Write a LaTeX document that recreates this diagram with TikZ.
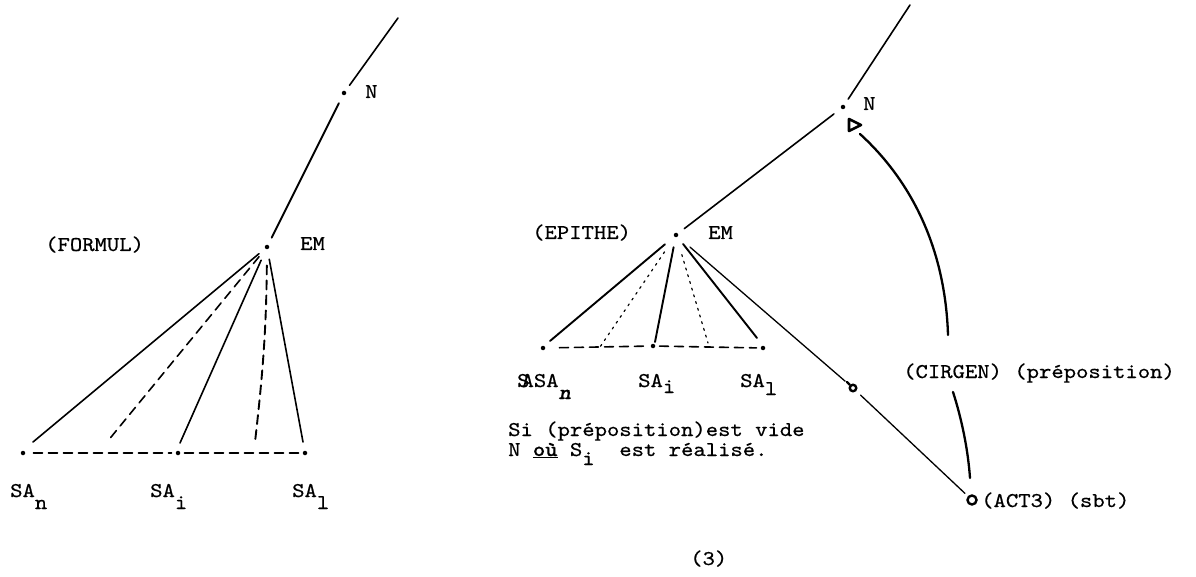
\documentclass[tikz,border=0pt]{standalone}
\usepackage{fontspec}
\newfontfamily\tw[Extension=.otf, FakeStretch=1.12, FakeBold=0.5,
  BoldFont=lmmonolt10-bold, ItalicFont=lmmono10-italic,
  BoldItalicFont=lmmonolt10-boldoblique]{lmmono10-regular}
\begin{document}
\begin{tikzpicture}[x=1pt,y=-1pt,
  lab/.style={font=\tw\fontsize{21}{25}\selectfont, inner sep=0pt, anchor=base west},
  edge/.style={line width=1.6pt, line cap=round},
  dsh/.style={edge, dash pattern=on 9pt off 6pt},
  dtt/.style={edge, line width=1.2pt, dash pattern=on 2pt off 5pt},
  dotn/.style={circle, fill=black, inner sep=0pt, minimum size=4.5pt}]
\useasboundingbox (0,0) rectangle (1196,577);
% ---------- left tree ----------
\coordinate (Ltop) at (398,18);
\node[dotn] (LN) at (344,93) {};
\node[dotn] (LEM) at (267,247) {};
\node[dotn] (Ln) at (23,453) {};
\node[dotn] (Li) at (178,453) {};
\node[dotn] (L1) at (305,453) {};
\coordinate (La) at (33,442);
\coordinate (Lb) at (107,442);
\coordinate (Lc) at (180,443);
\coordinate (Ld) at (255,442);
\coordinate (Le) at (303,442);
\draw[edge, shorten >=7pt] (Ltop) -- (LN);
\draw[edge, line width=1.9pt, shorten <=9pt, shorten >=8pt] (LN) -- (LEM);
\draw[edge, shorten <=8pt] (LEM) -- (La);
\draw[dsh, shorten <=10pt] (LEM) -- (Lb);
\draw[edge, shorten <=12pt] (LEM) -- (Lc);
\draw[dsh, line width=1.9pt, shorten <=16pt] (LEM) to[bend left=3] (Ld);
\draw[edge, shorten <=10pt] (LEM) -- (Le);
\draw[dsh, shorten <=8pt, shorten >=4pt] (Ln) -- (Li);
\draw[dsh, shorten <=4pt, shorten >=4pt] (Li) -- (L1);
\node[lab] (lN) at (365,98) {N};
\node[lab] (lEM) at (300,250) {EM};
\node[lab] (lFOR) at (45,251) {(FORMUL)};
\node[lab] (lSAn) at (10,497) {SA\raisebox{-12pt}{n}};
\node[lab] (lSAi) at (150,497) {SA\raisebox{-12pt}{i}};
\node[lab] (lSA1) at (292,497) {SA\raisebox{-12pt}{l}};
% ---------- right tree ----------
\coordinate (Rtop) at (910,5);
\node[dotn] (RN) at (843,107) {};
\node[dotn] (REM) at (676,235) {};
\node[dotn] (Rn) at (543,348) {};
\node[dotn] (Ri) at (653,346) {};
\node[dotn] (R1) at (763,348) {};
\coordinate (Ra) at (550,341);
\coordinate (Rb) at (600,347);
\coordinate (Rc) at (655,342);
\coordinate (Rd) at (708,343);
\coordinate (Re) at (757,338);
\coordinate (Rp) at (853,388);
\node[circle, draw, line width=2.4pt, inner sep=0pt, minimum size=6.5pt] (Rpm) at (Rp) {};
\draw[line width=2.4pt, line cap=round] (Rpm.north west) -- ++(-3,-3);
\node[circle, draw, line width=2.4pt, inner sep=0pt, minimum size=9pt] (RACT) at (972,500) {};
\draw[edge, shorten >=7pt] (Rtop) -- (RN);
\draw[edge, shorten <=9pt, shorten >=8pt] (RN) -- (REM);
\draw[edge, line width=1.9pt, shorten <=12pt] (REM) -- (Ra);
\draw[dtt, shorten <=18pt] (REM) -- (Rb);
\draw[edge, line width=1.9pt, shorten <=10pt] (REM) -- (Rc);
\draw[dtt, shorten <=18pt] (REM) -- (Rd);
\draw[edge, line width=1.9pt, shorten <=9pt] (REM) -- (Re);
\draw[edge, line width=1.3pt, shorten <=16pt, shorten >=6pt] (REM) -- (Rpm);
\draw[edge, line width=1.3pt, shorten <=6pt, shorten >=4pt] (Rpm) -- (RACT);
\draw[dsh, shorten <=14pt, shorten >=4pt] (Rn) -- (Ri);
\draw[dsh, shorten <=4pt, shorten >=4pt] (Ri) -- (R1);
% triangle arrow head at N
\draw[line width=2.6pt, line join=round] (849,119) -- (861,125) -- (849,131) -- cycle;
\coordinate (Cs) at (860,134);
\coordinate (Cm) at (948,335);
\coordinate (Cn) at (953,392);
\draw[edge, line width=2.3pt] (Cs) .. controls (905,175) and (945,240) .. (Cm);
\draw[edge, line width=2.3pt] (Cn) .. controls (962,420) and (968,450) .. (970,478);
\node[lab] (rN) at (863,110) {N};
\node[lab] (rEM) at (708,239) {EM};
\node[lab] (rEPI) at (532,239) {(EPITHE)};
\node[lab] (rCIR) at (903,378) {(CIRGEN) (préposition)};
\node[lab] (rACT) at (981,507) {(ACT3) (sbt)};
\node[lab] (rSAn) at (517,387) {S\kern-8pt ASA\raisebox{-12pt}{\textbf{\textit{n}}}};
\node[lab] (rSAi) at (638,387) {SA\raisebox{-6pt}{i}};
\node[lab] (rSA1) at (740,387) {SA\raisebox{-8pt}{l}};
\node[lab] (rT1) at (508,436) {Si (préposition)est vide};
\node[lab] (rT2) at (508,456) {N \underline{\textbf{où}} S\raisebox{-9pt}{i}~ est réalisé.};
\node[lab] (cap) at (690,565) {(3)};
\end{tikzpicture}
\end{document}
